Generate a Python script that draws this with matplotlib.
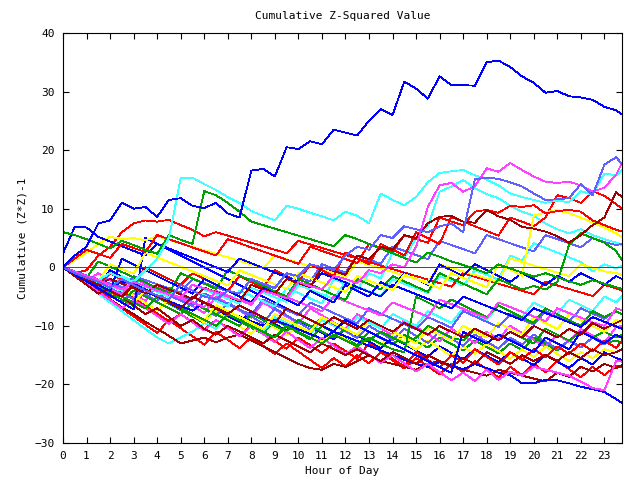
import matplotlib
matplotlib.use("Agg")
import matplotlib.pyplot as plt
import numpy as np

# half-hour samples, last point at 23:45
hours = list(np.arange(0, 24, 0.5)) + [23.75]

# series (value at each half hour)
b1 = [0, 2, 3.5, 7.5, 8, 11, 10, 10.3, 8.6, 11.5, 11.8, 10.5, 10.1, 11, 9.2, 8.5, 16.5, 16.8, 15.5, 20.5,
      20.2, 21.5, 21, 23.5, 23, 22.5, 25, 27, 26, 31.7, 30.5, 28.8, 32.6, 31.1, 31.1, 31, 35, 35.3, 34.2, 32.6,
      31.5, 29.8, 30.1, 29.2, 29, 28.6, 27.4, 26.8, 26.1]
lb1 = [0, -1, -1.8, -2.5, -3.5, -2, -3, -4, -4.8, -5.5, -3, -4, -5, -5.5, -4, -4.5, -2, -2.8, -3.5, -1,
       -1.5, 0.5, 0, -0.5, 2, 3.5, 3, 5.5, 5, 7, 6.5, 6, 7, 7.5, 6, 15, 15.3, 15.1, 14.5, 13.8,
       12.6, 11.5, 11.6, 11.8, 14.2, 12.3, 17.5, 18.8, 17.6]
m1 = [0, -0.8, -1.5, -2.2, -3, -3.8, -2.5, -3.2, -4, -4.6, -5.2, -3, -3.6, -4.3, -5, -5.6, -6.2, -4, -4.6, -5.3,
      -2.5, -3.2, -3.8, -1.5, -2, -2.7, -0.5, -1, 0.5, 0, 3.5, 10.3, 14, 14.4, 12.9, 13.8, 16.9, 16.3, 17.8, 16.6,
      15.5, 14.6, 14.4, 14.6, 14, 12.9, 13.6, 15.8, 17.8]
c2 = [0, -0.8, -1.5, -2.2, -1, -1.8, -2.5, -0.5, 1.5, 5, 15.2, 15.3, 14.2, 13.2, 12, 11, 9.6, 8.8, 8, 10.5,
      10, 9.3, 8.7, 8, 9.5, 8.8, 7.5, 12.6, 11.5, 10.6, 12, 14.5, 16.1, 16.4, 16.6, 15.7, 15, 14, 12.6, 12,
      11.5, 11, 11.4, 11.1, 13, 12.4, 16, 15.7, 16.6]
dr1 = [0, -1, -2, -3, -2, -2.8, -3.6, -4.4, -3, -3.8, -4.6, -5.4, -3.5, -4.2, -5, -5.8, -3, -3.8, -4.5, -2,
       -2.7, -3.4, 0, -0.6, -1.3, 2, 1.4, 3.5, 3, 5.5, 5, 7.5, 8.6, 8.8, 7.8, 7.6, 9.8, 8.7, 8.1, 6.9,
       6.6, 6.1, 5.3, 4.2, 5.5, 7.2, 8.5, 12.8, 12]
r1 = [0, 1.5, 3, 2.3, 1.6, 4, 3.3, 2.6, 5.5, 4.8, 4.1, 3.4, 2.7, 2, 4.8, 4.1, 3.4, 2.7, 2, 1.3,
      0.6, 3.5, 2.8, 2.1, 1.4, 0.7, 4, 3.3, 2.6, 5.5, 4.8, 4.2, 8.5, 7.8, 7.2, 9.5, 9.8, 9.3, 10.5, 10.3,
      10.6, 9.2, 9.6, 9.8, 9.5, 8, 7.2, 6.4, 6.1]
y1 = [0, -0.8, -1.6, -2.4, 0.5, -0.3, -1.1, 2.5, 1.7, 0.9, 0.1, -0.7, -1.5, -2.3, -3.1, -0.5, -1.3, -2.1, -2.9, -3.7,
      -1, -1.8, -2.6, -3.4, -4.2, -1.5, -2.3, -3.1, -3.9, -1.2, -2, -2.8, -3.6, -1, -1.8, -2.6, -3.4, 0.5, -0.3, -1.5,
      8.8, 9.4, 9.8, 9.2, 8.5, 7.6, 6.8, 5.8, 5.2]
g1 = [0, -0.9, -1.8, 1, 0.1, -0.8, -1.7, -2.6, -3.5, -4.4, -1, -1.9, -2.8, -3.7, -0.5, -1.4, -2.3, -3.2, -4.1, -5,
      -2, -2.9, -3.8, -4.7, -5.6, -2, -2.9, -3.8, -1.5, -2.4, -3.3, -4.2, -1, -1.9, -2.8, -3.7, -4.6, -2, -2.9, -3.8,
      -3.2, -3.8, -2.5, 3.8, 5.8, 5, 4.2, 2.8, 1.2]
g2 = [6, 5.5, 4.8, 4, 3.2, 4.5, 3.8, 3, 2.3, 5.5, 4.7, 4, 13, 12.3, 11, 9.5, 7.8, 7.2, 6.6, 6,
      5.4, 4.8, 4.2, 3.6, 5.5, 4.8, 4, 3.2, 2.4, 1.6, 0.8, 2.5, 1.8, 1, 0.4, -0.3, -1, 0.5, -0.2, -0.9,
      -1.6, -1, -1.7, -2.4, -3, -2.2, -2.8, -3.4, -3.7]
b2 = [2.4, 6.9, 6.8, 5.2, 4.4, 3.6, 2.8, 2, 4, 3.2, 2.4, 1.6, 0.8, 0, -0.8, 1.5, 0.7, -0.1, -0.9, -1.7,
      -2.5, -3.3, -1, -1.8, -2.6, -3.4, -4.2, -5, -3, -3.8, -4.6, -5.4, -6.2, -7, -5, -5.8, -6.6, -7.4, -8.2, -9,
      -7, -7.8, -8.6, -9.4, -10.2, -8.5, -9.3, -10.1, -10.5]
r5 = [0, -1, -0.5, 2, 3.5, 6, 7.5, 8, 7.8, 8.1, 7.2, 6.4, 5.3, 6, 5.4, 4.8, 4.2, 3.6, 3, 2.4,
      4.5, 3.9, 3.3, 2.7, 2.1, 1.5, 0.9, 0.3, -0.3, -0.9, -1.5, -2.1, -2.7, -3.3, -1, -1.6, -2.2, -2.8, -3.4, -4,
      -4.6, -2.5, -3.1, -3.7, -4.3, -4.9, -3, -3.6, -4]
y2 = [0, 1.2, 2.5, 4, 5.2, 4.8, 5, 4.6, 5.3, 4.7, 4.1, 3.5, 2.9, 2.3, 1.7, 1.1, 0.5, -0.1, 2, 1.4,
      0.8, 0.2, -0.4, -1, -1.6, 1, 0.4, -0.2, -0.8, -1.4, -2, -2.6, 0.5, -0.1, -0.7, -1.3, -1.9, -2.5, 1.5, 0.9,
      0.3, -0.3, -0.9, -1.5, 0.5, -0.1, -0.7, -1, -1.3]
m2 = [0, -1, -2, -3, -3.8, -4.6, -2, -2.8, -3.6, -4.4, -5.2, -6, -6.8, -4, -4.8, -5.6, -6.4, -3.5, -4.3, -5.1,
      -5.9, -6.7, -7.5, -5, -5.8, -6.6, -7.4, -8.2, -6, -6.8, -7.6, -8.4, -5.5, -6.3, -7.1, -7.9, -8.7, -6, -6.8, -7.6,
      -8.4, -9.2, -7, -7.8, -8.6, -9.4, -10, -7, -7.3]
g3 = [0, -1.2, -2.4, -3.6, -4.8, -6, -4, -5, -6, -7, -8, -6, -7, -8, -9, -10, -8, -9, -10, -11,
      -9, -10, -11, -12, -10.5, -11.5, -12.5, -11, -12, -13, -12, -10, -11, -12, -12.5, -10.5, -11.5, -12.5, -11, -12,
      -13, -10.5, -11.5, -12.5, -11, -12, -11, -12, -11.5]
r3 = [0, -1.3, -2.6, -3.9, -5.2, -4, -5.3, -6.6, -7.9, -9.2, -8, -9.3, -10.6, -9, -10.3, -11.6, -10, -11.3, -12.6, -13.9,
      -12, -13.3, -14.6, -13, -14.3, -15.6, -13, -14.3, -15.6, -16.9, -14.5, -15.8, -17.1, -15, -16.3, -14, -15.3, -16.6, -14.5, -15.8,
      -14, -15.3, -13.5, -14.8, -13, -14.3, -12.5, -13.8, -12.5]
m3 = [0, -1.4, -2.8, -4.2, -5.6, -7, -5.5, -6.9, -8.3, -9.7, -8, -9.4, -10.8, -9, -10.4, -11.8, -10, -11.4, -12.8, -11,
      -12.4, -13.8, -12, -13.4, -14.8, -13.5, -14.9, -16.3, -15, -16.4, -17.8, -16.5, -17.9, -19.3, -18, -19.4, -17.5, -19.2, -17.8, -18.5,
      -17, -17.5, -18, -18.5, -19.5, -20.6, -21, -16, -16.1]
b3 = [0, -1.1, -2.2, -3.3, -0.5, -1.6, -2.7, -3.8, -4.9, -6, -7.1, -5, -6.1, -7.2, -8.3, -9.4, -7.5, -8.6, -9.7, -10.8,
      -9, -10.1, -11.2, -12.3, -10.5, -11.6, -12.7, -13.8, -12, -13.1, -14.2, -15.3, -13.5, -14.6, -15.7, -14, -15.1, -16.2, -14.5, -15.6,
      -16.7, -15, -16.1, -17.2, -15.5, -16.6, -14.5, -15.5, -15.8]
lb2 = [0, -0.9, -1.8, -2.7, -3.6, -4.5, -5.4, -3, -3.9, -4.8, -5.7, -6.6, -4.5, -5.4, -6.3, -7.2, -8.1, -5.5, -6.4, -7.3,
       -8.2, -6, -6.9, -7.8, -8.7, -9.6, -7, -7.9, -8.8, -9.7, -10.6, -8.5, -9.4, -10.3, -7.5, -8.4, -9.3, -10.2, -8, -8.9,
       -9.8, -7.5, -8.4, -9.3, -7, -7.9, -8.8, -7.5, -8]
y3 = [0, -1, -2, -3, -4, -5, -6, -4, -5, -6, -7, -8, -9, -6.5, -7.5, -8.5, -9.5, -10.5, -8, -9,
      -10, -11, -8.5, -9.5, -10.5, -11.5, -9, -10, -11, -12, -13, -10.5, -11.5, -12.5, -10, -11, -12, -9.5, -10.5, -11.5,
      -8.5, -9.5, -10.5, -8, -9, -10, -11, -9, -9.5]
c4 = [0, -0.8, -1.6, -2.4, -3.2, -4, -2, -2.8, -3.6, -4.4, -5.2, -3, -3.8, -4.6, -5.4, -6.2, -3.5, -4.3, -5.1, -5.9,
      -3, -3.8, -4.6, -5.4, -2.5, -3.3, -4.1, -4.9, -2, -2.8, -3.6, -4.4, -1.5, -2.3, -3.1, -0.5, -1.3, -2.1, 2, 1.2,
      4.1, 3.3, 2.5, 1.7, 0.9, -0.7, 0.5, -0.2, 0.3]
c3 = [0, -0.9, -1.8, -2.7, -3.6, -1.5, -2.4, -3.3, -4.2, -5.1, -3, -3.9, -4.8, -5.7, -6.6, -4, -4.9, -5.8, -6.7, -3.5,
      -4.4, -5.3, -6.2, -2, -2.9, -3.8, -1, -1.9, 2.5, 1.6, 5, 7, 12.9, 13.8, 14.9, 13.5, 12.5, 11.8, 10.5, 9.5,
      8.8, 7.5, 6.5, 5.8, 6.5, 5.5, 4.8, 4.2, 3.8]
r2 = [0, -1, -2, -3, -1, -2, -3, 0, -1, -2, -3, -1, -2, -3, -4, -1.5, -2.5, -3.5, -0.5, -1.5,
      -2.5, 0.5, -0.5, -1.5, 2.5, 1.5, 0.5, 4, 3, 2, 6, 5, 4, 8.6, 7.8, 7, 6.2, 5.4, 8.5, 7.8,
      7, 8.5, 12.3, 11.8, 11, 13, 12.2, 10.8, 10]
g4 = [0, -1.1, -2.2, -3.3, -4.4, -5.5, -6.6, -4, -5.1, -6.2, -7.3, -8.4, -9.5, -7, -8.1, -9.2, -10.3, -11.4, -9, -10.1,
      -11.2, -12.3, -10, -11.1, -12.2, -13.3, -11, -12.1, -13.2, -11.5, -12.6, -13.7, -12, -13.1, -14.2, -12.5, -13.6, -14.7, -13, -14.1,
      -12, -13.1, -14.2, -12.5, -13.6, -12, -13, -12.5, -13]
lb3 = [0, -1.2, -2.4, -3.6, -1, -2.2, -3.4, -4.6, -5.8, -3.5, -4.7, -5.9, -7.1, -8.3, -6, -7.2, -8.4, -9.6, -7, -8.2,
       -9.4, -10.6, -8.5, -9.7, -10.9, -12.1, -10, -11.2, -12.4, -10.5, -11.7, -12.9, -11, -12.2, -13.4, -11.5, -12.7, -13.9, -12, -13.2,
       -11.5, -12.7, -13.9, -12.5, -13.7, -12, -13.2, -11.5, -12]
b4 = [0, -1, -2, -3, -4, 1.5, 0.5, -0.5, -1.5, -2.5, -3.5, -4.5, -2, -3, -4, -5, -6, -3.5, -4.5, -5.5,
      -6.5, -4, -5, -6, -3, -4, -5, -2.5, -3.5, -1, -2, -3, 0.5, -0.5, -1.5, 0.5, -0.5, -1.5, -2.5, -1,
      -2, -3, -1.5, -2.5, -1, -2, -3, -1.5, -2]
dr4 = [0, -1.5, -3, -4.5, -3.5, -5, -6.5, -8, -7, -8.5, -10, -9, -10.5, -11.5, -10, -11, -12, -13, -11.5, -12.5,
       -13.5, -14.5, -13, -14, -15, -14, -15, -16, -14.5, -15.5, -16.5, -15, -16, -17, -15.5, -16.5, -14.5, -15.5, -16.5, -15,
       -16, -15, -16, -14.5, -15.5, -14, -15, -14.5, -14]
m4 = [0, -1.2, -2.4, -1, -2.2, -3.4, -4.6, -5.8, -3, -4.2, -5.4, -6.6, -7.8, -5, -6.2, -7.4, -8.6, -6, -7.2, -8.4,
      -9.6, -7, -8.2, -9.4, -10.6, -8, -9.2, -10.4, -11.6, -9, -10.2, -11.4, -12.6, -10.5, -11.7, -12.9, -11, -12.2, -10, -11.2,
      -12.4, -13.6, -11.5, -12.7, -10.5, -11.7, -12.9, -10.2, -10]
y4 = [0, -1.3, -2.6, -3.9, -5.2, -3.5, -4.8, -6.1, -7.4, -5.5, -6.8, -8.1, -9.4, -7.5, -8.8, -10.1, -11.4, -9, -10.3, -11.6,
      -10, -11.3, -12.6, -11, -12.3, -13.6, -12, -13.3, -11.5, -12.8, -14.1, -12.5, -13.8, -15.1, -13.5, -14.8, -13, -14.3, -15.6, -14,
      -15.3, -13.5, -14.8, -16, -14.5, -15.5, -14, -14.5, -14]
c5 = [0, -1.5, -3, -4.5, -6, -7.5, -9, -10.5, -12, -13, -12, -11, -9.5, -10.5, -8, -9, -10, -11, -8.5, -9.5,
      -10.5, -11.5, -9, -10, -11, -8.5, -9.5, -10.5, -8, -9, -10, -7.5, -8.5, -9.5, -7, -8, -9, -6.5, -7.5, -8.5,
      -6, -7, -8, -5.5, -6.5, -7.5, -5, -6, -5]
r6 = [0, -1.4, -2.8, -4.2, -5.6, -7, -8.4, -9.8, -11.2, -9, -10.4, -11.8, -13.2, -11, -12.4, -13.8, -12, -13.4, -14.8, -13,
      -14.4, -15.8, -17.2, -15.5, -16.9, -15, -16.4, -14.5, -15.9, -17.3, -15.5, -16.9, -18.3, -16.5, -17.9, -16, -17.4, -18.8, -17, -18.4,
      -16.5, -17.9, -16, -17.4, -18.8, -17, -18.4, -16.8, -17]
g5 = [0, -1, -2, -3, -4, -5, -6, -7, -5, -6, -7, -8, -9, -10, -8, -9, -10, -11, -12, -10,
      -11, -12, -13, -11.5, -12.5, -13.5, -12, -13, -14, -14.5, -5, -6, -7, -5.5, -6.5, -7.5, -8.5, -6.5, -7.5, -8.5,
      -9.5, -7, -8, -9, -10, -7.5, -8.5, -7.5, -8]
b5 = [0, -1.2, -2.4, -3.6, -4.8, -6, -7.2, 5, 4, 3, 2, 1, 0, -1, -2, -3, -4, -5, -6, -7,
      -8, -9, -10, -11, -9, -10, -11, -12, -13, -14, -15, -16, -17, -18, -11, -12, -13, -11.5, -12.5, -13.5,
      -14.5, -12, -13, -14, -11, -12, -13, -11.5, -12]
dr2 = [0, -1, -2, -3, -4, -5, -3, -4, -5, -6, -7, -5, -6, -7, -8, -6.5, -7.5, -8.5, -9.5, -7,
       -8, -9, -10, -8.5, -9.5, -10.5, -9, -10, -11, -9.5, -10.5, -11.5, -10, -11, -12, -10.5, -11.5, -12.5, -11, -12,
       -10, -11, -12, -10.5, -11.5, -9.5, -10.5, -9.5, -9]
lb4 = [0, -0.7, -1.4, -2.1, -2.8, -3.5, -1.5, -2.2, -2.9, -3.6, -4.3, -2, -2.7, -3.4, -4.1, -1.5, -2.2, -2.9, -3.6, -1,
       -1.7, -2.4, 0.5, -0.2, -0.9, 2, 1.3, 0.6, 3.5, 2.8, 2.1, 1.4, 4.5, 3.8, 3.1, 2.4, 5.5, 4.8, 4.1, 3.4,
       2.7, 5.5, 4.8, 4.1, 3.4, 5, 4.3, 3.8, 4]
dr3 = [0, -1.5, -3, -4.2, -5.5, -6.8, -8, -9.3, -10.5, -11.7, -13, -12.5, -12, -12.8, -12, -11.5, -12.5, -13.5, -14.5, -15.5,
       -16.5, -17.2, -17.5, -16.5, -17, -16, -15, -16, -16.5, -17, -17.5, -16.5, -16, -16.8, -17.5, -18, -18.5, -17.5, -18, -18.5,
       -19, -19.5, -18, -18.7, -17, -17.8, -16.5, -17.2, -16.7]
b_low = [0, -1, -2, -2.8, -3.6, -2.5, -3.4, -4.2, -5, -5.8, -6.6, -7.4, -6, -6.8, -7.6, -8.4, -9.2, -10, -9, -9.8,
         -10.6, -11.4, -12.2, -11, -11.8, -12.6, -13.4, -14.2, -15, -15.8, -16.5, -17, -16.2, -16.8, -17.4, -16.5, -17.2, -18, -18.4, -19.8,
         -19.8, -19.2, -19.3, -19.8, -20.4, -20.8, -21.3, -22.5, -23.2]

RED, GREEN, BLUE, MAGENTA = '#ff0000', '#00a000', '#0000ff', '#ff40ff'
CYAN, DARKRED, YELLOW, LIGHTBLUE = '#40ffff', '#a00000', '#ffff00', '#6060ff'

lines = [
    (r6, RED), (g4, GREEN), (b3, BLUE), (m4, MAGENTA), (c5, CYAN), (dr3, DARKRED), (y4, YELLOW), (lb3, LIGHTBLUE),
    (r3, RED), (g3, GREEN), (b_low, BLUE), (m3, MAGENTA), (c4, CYAN), (dr4, DARKRED), (y3, YELLOW), (lb2, LIGHTBLUE),
    (r5, RED), (g5, GREEN), (b5, BLUE), (m2, MAGENTA), (c3, CYAN), (dr2, DARKRED), (y2, YELLOW), (lb4, LIGHTBLUE),
    (r2, RED), (g1, GREEN), (b2, BLUE), (b4, BLUE), (y1, YELLOW), (r1, RED), (g2, GREEN),
    (dr1, DARKRED), (c2, CYAN), (m1, MAGENTA), (lb1, LIGHTBLUE), (b1, BLUE),
]

font = {'family': 'DejaVu Sans Mono', 'size': 8}

fig = plt.figure(figsize=(6.4, 4.8), dpi=100)
ax = fig.add_axes([63 / 640, 1 - 443 / 480, 559 / 640, 410 / 480])

for vals, col in lines:
    ax.plot(hours, vals, color=col, lw=0.6, antialiased=False)
ax.axhline(0, color=RED, lw=0.6, antialiased=False)

ax.set_xlim(0, 23.75)
ax.set_ylim(-30, 40)
ax.set_xticks(range(24))
ax.set_yticks(range(-30, 41, 10))
ax.tick_params(direction='in', top=True, right=True, length=4, width=0.8, pad=6, labelsize=8)
for lab in ax.get_xticklabels() + ax.get_yticklabels():
    lab.set_family('DejaVu Sans Mono')
for s in ax.spines.values():
    s.set_linewidth(0.8)

ax.set_title("Cumulative Z-Squared Value", fontdict=font, pad=10)
ax.set_xlabel("Hour of Day", fontdict=font, labelpad=3)
ax.set_ylabel("Cumulative (Z*Z)-1", fontdict=font, labelpad=5)

fig.savefig("out.png", dpi=100)
